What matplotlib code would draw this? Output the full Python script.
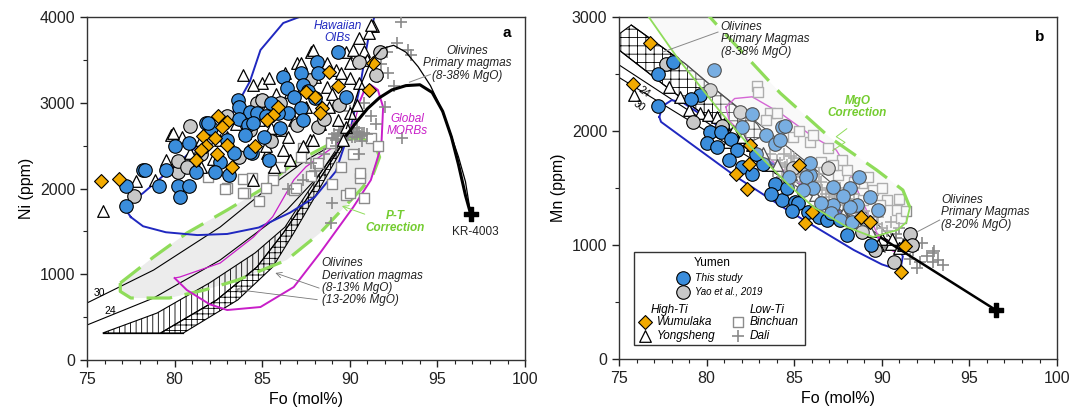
import numpy as np
import matplotlib.pyplot as plt
from matplotlib.patches import Polygon, Rectangle
from matplotlib.ticker import MultipleLocator

plt.rcParams['font.family'] = ['Liberation Sans', 'DejaVu Sans']
plt.rcParams['hatch.linewidth'] = 0.6

# ---------------- panel a : Ni (ppm) vs Fo ----------------
a_blue = np.array([(78.2, 2220), (77.2, 2030), (77.2, 1800), (79.1, 2030), (79.5, 2215), (80.2, 2030),
                   (80.8, 2030), (80.3, 1900), (80.0, 2490), (80.8, 2525), (81.2, 2195), (81.8, 2760),
                   (82.1, 2700), (83.6, 3030), (83.7, 2945), (84.3, 2895), (83.7, 2805), (84.2, 2740),
                   (84.0, 2625), (82.6, 2315), (82.3, 2195), (83.1, 2155), (84.4, 2410), (83.0, 2565),
                   (83.4, 2420), (89.3, 3595), (88.1, 3480), (87.2, 3345), (86.2, 3305), (86.4, 3170),
                   (87.3, 3205), (88.2, 3345), (86.8, 3065), (87.2, 2935), (86.5, 2885), (85.9, 2875),
                   (87.3, 2800), (89.8, 3065), (87.6, 3140), (84.7, 2875), (84.5, 2760), (85.1, 2605),
                   (85.4, 2330), (84.3, 2430), (88.0, 3050), (81.9, 2765), (78.3, 2215), (85.5, 3000),
                   (86.0, 2700), (85.2, 2850)])
a_yao = np.array([(77.7, 1910), (80.2, 2195), (80.2, 2325), (80.9, 2730), (84.7, 3000), (83.7, 2370),
                  (80.7, 2255), (91.7, 3595), (91.5, 3325), (90.5, 3480), (88.2, 2720), (87.7, 3265),
                  (89.4, 2975), (87.0, 2740), (84.3, 2680), (88.5, 2815), (82.0, 2600), (85.5, 2550),
                  (86.0, 3000), (83.0, 2850), (81.5, 2400), (85.0, 3030)])
a_wumulaka = np.array([(75.8, 2090), (76.8, 2115), (82.5, 2845), (83.0, 2780), (82.7, 2715), (81.6, 2610),
                       (82.3, 2585), (81.8, 2495), (81.5, 2450), (83.0, 2505), (81.2, 2330), (82.4, 2400),
                       (83.3, 2255), (84.6, 2495), (88.8, 3360), (89.3, 3195), (87.5, 3130), (88.0, 3065),
                       (91.1, 3150), (91.3, 3465), (85.9, 2955), (85.6, 2855), (85.3, 2800), (88.4, 2935),
                       (88.3, 2875)])
a_yongsheng = np.array([(83.9, 3320), (79.8, 2620), (75.9, 1740), (77.8, 2090), (78.9, 2105), (79.5, 2330),
                        (84.7, 3030), (84.5, 2100), (80.4, 2600), (91.3, 3890), (91.1, 3810), (89.8, 3595),
                        (87.8, 3595), (87.0, 3460), (85.0, 3225), (89.2, 3380), (90.0, 3460), (84.5, 3205),
                        (89.3, 2800), (90.5, 3225), (86.6, 2330), (86.2, 2450), (85.7, 2255), (88.7, 3185),
                        (85.3, 2955), (90.0, 2875), (87.7, 2565), (87.3, 2490), (86.1, 2680), (90.4, 2975),
                        (89.8, 2720), (79.9, 2650), (87.9, 3615), (90.2, 3615), (91.2, 3905), (87.2, 3465),
                        (85.4, 3290), (86.6, 3125), (88.7, 3465), (90.0, 3290), (89.6, 2565), (86.6, 2330),
                        (87.9, 2565), (85.3, 2415), (82.6, 2565), (81.5, 2565), (80.9, 2415), (83.5, 2750),
                        (84.0, 2650), (84.8, 2800), (85.5, 2700), (86.0, 2900), (86.8, 2800), (87.5, 2950),
                        (88.3, 2750), (88.8, 2950), (89.0, 3100), (85.2, 2500), (86.5, 2600), (84.2, 2450),
                        (83.0, 2600), (82.2, 2350), (81.5, 2250), (88.0, 3300), (86.3, 3350), (85.8, 3100),
                        (87.3, 3200), (89.5, 3350), (90.8, 3600), (90.5, 3750), (91.0, 3500)])
a_binchuan = np.array([(88.9, 2530), (87.3, 2470), (90.6, 2120), (90.8, 1890), (89.8, 1920), (85.6, 2140),
                       (86.8, 1980), (91.2, 2590), (90.6, 2180), (85.6, 2100), (87.2, 2370), (83.0, 2005),
                       (84.0, 1950), (85.2, 2005), (86.9, 2005), (90.0, 1950), (82.9, 1990), (83.9, 2106),
                       (84.4, 2118), (83.9, 1944), (81.9, 2138), (88.2, 2300), (89.5, 2250), (86.0, 2250),
                       (87.8, 2150), (84.8, 1850), (89.0, 2050), (90.2, 2400), (91.6, 2500)])
a_dali = np.array([(92.9, 3940), (92.7, 3700), (93.3, 3620), (93.5, 3560), (92.1, 3590), (91.6, 3300),
                   (93.0, 2590), (92.2, 3350), (91.8, 3450), (92.5, 3200), (90.8, 3000), (91.2, 2850),
                   (90.2, 2700), (89.5, 2650), (88.5, 2400), (87.8, 2300), (88.0, 2200), (89.0, 1830),
                   (88.9, 1600), (90.5, 2400), (91.5, 2750), (90.0, 2900), (92.0, 2950), (89.2, 2500),
                   (87.3, 2100), (86.5, 2000), (90.7, 2550), (89.0, 2590), (89.3, 2610), (89.6, 2630),
                   (89.9, 2640), (90.2, 2650), (90.5, 2660), (90.8, 2650), (89.4, 2680), (89.8, 2700),
                   (90.3, 2600), (90.6, 2610), (89.1, 2640), (89.2, 2560), (89.5, 2580), (89.8, 2560),
                   (90.1, 2600), (90.4, 2630), (90.7, 2620), (91.0, 2640), (89.6, 2660), (90.0, 2680),
                   (90.4, 2700)])

# reference fields, panel a
a_oib = [(77.5, 1667), (77.1, 1784), (78.2, 1947), (80.5, 2350), (83.3, 2880), (84.3, 3250), (84.9, 3615),
         (86.2, 3930), (87.9, 4060), (89.5, 4180), (90.8, 4150), (91.4, 4000), (91.1, 3800), (90.9, 3580),
         (90.6, 3207), (90.1, 2750), (89.2, 2200), (88.0, 1900), (86.6, 1720), (84.8, 1545), (83.0, 1470),
         (81.3, 1457), (79.5, 1490), (78.2, 1560), (77.5, 1667)]
a_morb_outer = [(80.0, 956), (80.7, 816), (82.0, 650), (83.0, 583), (84.9, 618), (86.8, 851), (88.3, 1248),
                (90.2, 1784), (91.2, 2099), (91.8, 2500), (91.9, 2950), (91.6, 3150), (91.2, 3206),
                (90.8, 3130), (90.6, 3032)]
a_morb_inner = [(90.6, 3032), (90.3, 2800), (89.5, 2550), (87.5, 2254), (86.8, 2099), (85.6, 1672),
                (84.5, 1434), (82.6, 1131), (80.3, 968), (80.0, 956)]
a_pt = [(76.9, 898), (78.8, 1201), (80.7, 1481), (83.0, 1749), (84.9, 1982), (86.8, 2297), (89.3, 2565),
        (90.6, 2588), (91.4, 2530), (91.7, 2367), (91.3, 2150), (90.6, 1982), (88.3, 1481), (86.4, 1166),
        (83.6, 933), (81.7, 816), (79.7, 723), (77.5, 723), (76.9, 800), (76.9, 898)]
a_l30 = [(75.0, 665), (78.8, 1049), (82.6, 1551), (85.4, 2017), (87.5, 2330), (89.8, 2600)]
a_l24 = [(75.0, 408), (78.8, 723), (82.6, 1166), (86.4, 1749), (88.0, 2099), (89.8, 2580)]
a_hatch_a = [(75.9, 315), (79.0, 548), (82.0, 900), (84.6, 1250), (86.3, 1550), (87.3, 1866), (89.6, 2570)]
a_hatch_b = [(79.2, 315), (82.4, 700), (84.7, 1085), (86.2, 1481), (87.5, 1866), (89.7, 2560)]
a_hatch_c = [(80.5, 315), (83.6, 700), (85.6, 1085), (86.8, 1481), (87.9, 1866), (89.8, 2550)]
a_prim_thick = [(89.8, 2620), (90.4, 2780), (91.0, 2930), (91.7, 3060), (92.4, 3150), (93.2, 3200),
                (94.0, 3210), (94.7, 3120), (95.3, 2900), (95.8, 2600), (96.2, 2280), (96.6, 1920), (96.9, 1700)]
a_prim_thin = [(89.8, 2700), (90.5, 3150), (91.2, 3480), (91.8, 3630), (92.5, 3670), (93.2, 3590),
               (93.9, 3420), (94.6, 3200), (95.2, 2940), (95.7, 2670), (96.2, 2370), (96.6, 2080), (96.9, 1700)]
a_kr = (96.9, 1700)

# ---------------- panel b : Mn (ppm) vs Fo ----------------
b_blue = np.array([(77.2, 2216), (77.25, 2497), (78.1, 2605), (79.6, 2313), (79.1, 2284), (80.4, 2532),
                   (80.2, 1991), (80.8, 1991), (80.0, 1894), (80.6, 1859), (81.4, 1932), (81.75, 1830),
                   (81.3, 1742), (82.0, 1684), (82.6, 1625), (83.2, 1713), (82.8, 1800), (83.9, 1538),
                   (84.3, 1392), (83.7, 1450), (84.6, 1497), (85.05, 1380), (85.8, 1292), (86.4, 1248),
                   (86.85, 1219), (89.4, 1000), (88.0, 1088), (85.24, 1366), (84.9, 1300),
                   (82.6, 2152), (82.0, 2035), (84.3, 2035), (83.4, 1962), (83.9, 1888), (84.47, 2044),
                   (84.19, 1921), (85.9, 1614), (84.7, 1599), (85.9, 1716), (85.7, 1599), (86.1, 1497),
                   (87.2, 1512), (88.2, 1497), (88.6, 1351), (87.2, 1351), (86.5, 1365), (87.1, 1278),
                   (88.2, 1336), (87.6, 1219), (88.3, 1205), (89.8, 1307), (85.5, 1482), (88.7, 1600),
                   (87.8, 1430), (89.3, 1420)])
b_yao = np.array([(77.7, 2591), (80.2, 2363), (81.9, 2166), (79.2, 2079), (84.95, 1672), (86.95, 1672),
                  (91.6, 1096), (91.7, 1000), (90.7, 854), (89.6, 956), (88.85, 1117), (80.9, 2040)])
b_wumulaka = np.array([(76.75, 2772), (75.8, 2409), (82.5, 1874), (81.7, 1625), (82.3, 1494), (82.4, 1713),
                       (85.3, 1702), (85.6, 1195), (88.8, 1248), (89.3, 1205), (91.3, 994), (91.1, 766),
                       (86.0, 1292)])
b_yongsheng = np.array([(77.85, 2386), (75.86, 2313), (79.0, 2181), (79.6, 2160), (80.1, 2137), (80.6, 2120),
                        (81.0, 2060), (81.5, 2000), (82.0, 1950), (82.6, 1880), (83.2, 1810), (84.0, 1700),
                        (84.8, 1620), (85.5, 1520), (86.2, 1440), (87.0, 1350), (87.8, 1270), (88.5, 1200),
                        (89.3, 1120), (90.0, 1050), (90.5, 1010), (91.0, 970), (78.5, 2300), (81.2, 1900),
                        (83.5, 1700), (86.5, 1330), (89.8, 1000), (90.6, 1050), (91.2, 1000)])
b_binchuan = np.array([(82.9, 2391), (82.95, 2346), (83.6, 2155), (84.0, 2160), (85.9, 1906), (84.95, 1950),
                       (86.5, 1731), (87.5, 1614), (88.85, 1541), (89.5, 1482), (90.3, 1395), (90.85, 1307),
                       (86.1, 1965), (88.0, 1658), (88.9, 1395), (91.1, 1234), (86.9, 1850), (87.7, 1750),
                       (89.2, 1600), (90.0, 1500), (91.0, 1400), (91.4, 1300), (85.3, 2000), (87.2, 1700),
                       (88.4, 1550), (89.9, 1350), (83.4, 2100)])
b_dali = np.array([(92.3, 1015), (92.94, 927), (93.5, 824), (92.2, 854), (92.94, 854), (91.8, 960),
                   (91.5, 1050), (90.8, 1100), (90.0, 1150), (89.3, 1200), (88.5, 1280), (87.8, 1350),
                   (87.0, 1420), (86.3, 1480), (85.6, 1560), (85.0, 1620), (84.5, 1680), (89.0, 1300),
                   (88.0, 1400), (87.2, 1500), (86.5, 1550), (90.5, 1200), (91.0, 1150), (89.8, 1250),
                   (88.7, 1350), (92.6, 900), (93.2, 870), (91.6, 880), (92.0, 800), (90.2, 980),
                   (93.0, 950), (84.0, 1750), (84.6, 1700), (85.2, 1650), (85.8, 1600), (84.3, 1600),
                   (85.0, 1550), (86.0, 1500), (86.8, 1450), (87.5, 1400), (88.2, 1330), (83.6, 1800),
                   (84.8, 1780), (86.4, 1620), (87.6, 1500), (88.4, 1450), (83.8, 1650), (84.2, 1720),
                   (84.9, 1700), (85.4, 1600), (85.6, 1680), (86.2, 1560), (86.9, 1500), (87.3, 1440),
                   (87.9, 1380), (88.6, 1300), (89.2, 1250), (89.7, 1180), (90.3, 1120), (90.8, 1060),
                   (91.3, 1020), (84.4, 1800), (85.0, 1760), (83.9, 1880), (86.6, 1480), (88.9, 1220)])

b_band = [(79.6, 3100), (80.7, 2912), (84.2, 2333), (87.0, 1947), (89.7, 1658), (91.2, 1482), (91.6, 1330),
          (91.4, 1200), (90.9, 1132), (89.5, 1070), (88.0, 1158), (86.1, 1333), (84.6, 1540), (82.3, 1895),
          (80.7, 2184), (78.3, 2649), (76.7, 3000), (76.2, 3100)]
b_crosshatch = [(75.0, 2850), (75.7, 2930), (78.8, 2588), (80.7, 2340), (82.9, 2060), (83.3, 1960),
                (82.2, 1886), (80.0, 2123), (77.5, 2412), (75.0, 2711)]
b_line0 = [(75.7, 2930), (78.8, 2588), (80.7, 2340), (83.0, 2060), (86.0, 1690), (89.0, 1300), (90.8, 1020)]
b_line1 = [(75.0, 2711), (77.5, 2412), (80.0, 2123), (82.2, 1886), (86.0, 1450), (90.8, 1000)]
b_l24 = [(75.0, 2580), (90.8, 990)]
b_l30 = [(75.0, 2470), (90.8, 980)]
b_primary = [(90.0, 1060), (96.5, 430)]
b_oib = [(77.3, 2123), (77.5, 2220), (78.0, 2270), (78.6, 2254), (81.0, 2010), (84.0, 1690), (87.0, 1350),
         (89.5, 1090), (91.0, 960), (91.2, 900), (91.1, 820), (90.7, 795), (90.0, 830), (88.4, 956),
         (84.6, 1307), (81.7, 1597), (79.0, 1900), (77.4, 2080), (77.3, 2123)]
b_morb = [(81.1, 2210), (81.6, 2285), (82.6, 2300), (84.2, 2158), (86.1, 1947), (87.4, 1833), (88.0, 1680),
          (88.6, 1482), (89.9, 1044), (90.6, 950), (91.0, 930), (90.9, 1010), (90.0, 1050), (88.5, 1160),
          (86.5, 1390), (84.5, 1640), (82.5, 1900), (81.3, 2090), (81.1, 2210)]
b_kr = (96.5, 430)

BLUE = '#3a8ddc'
GREY = '#c8c8c8'
ORANGE = '#f2aa00'
GREEN = '#8fdc5a'
MAGENTA = '#c81ec8'
OIB = '#2028c0'


def xy(pts):
    arr = np.array(pts)
    return arr[:, 0], arr[:, 1]


def style_axes(ax, ymax, ylabel):
    ax.set_xlim(75, 100)
    ax.set_ylim(0, ymax)
    ax.xaxis.set_major_locator(MultipleLocator(5))
    ax.xaxis.set_minor_locator(MultipleLocator(1))
    ax.yaxis.set_major_locator(MultipleLocator(1000))
    ax.yaxis.set_minor_locator(MultipleLocator(500))
    ax.tick_params(which='major', direction='out', length=5, width=1, labelsize=11.5, colors='#222')
    ax.tick_params(which='minor', direction='out', length=3, width=0.8, colors='#222')
    for s in ax.spines.values():
        s.set_color('#333')
        s.set_linewidth(1)
    ax.set_xlabel('Fo (mol%)', fontsize=11.5)
    ax.set_ylabel(ylabel, fontsize=11.5)


def scatter_sets(ax, blue, yao, wum, yong, binc, dali):
    ax.scatter(binc[:, 0], binc[:, 1], s=55, marker='s', facecolor='white', edgecolor='#8c8c8c', lw=1, zorder=3)
    ax.scatter(dali[:, 0], dali[:, 1], s=80, marker='+', color='#8a8a8a', lw=1.2, zorder=3)
    ax.scatter(yong[:, 0], yong[:, 1], s=70, marker='^', facecolor='white', edgecolor='black', lw=0.9, zorder=4)
    ax.scatter(yao[:, 0], yao[:, 1], s=95, marker='o', facecolor=GREY, edgecolor='black', lw=0.8, zorder=5)
    ax.scatter(blue[:, 0], blue[:, 1], s=95, marker='o', facecolor=BLUE, edgecolor='black', lw=0.8, zorder=5)
    ax.scatter(wum[:, 0], wum[:, 1], s=50, marker='D', facecolor=ORANGE, edgecolor='black', lw=0.8, zorder=6)


fig = plt.figure(figsize=(10.7, 4.08), dpi=100)

# ---------- panel a ----------
ax = fig.add_axes([0.0813, 0.1176, 0.4094, 0.8407])
ax.add_patch(Polygon(a_pt, closed=True, facecolor='#ececec', edgecolor='none', zorder=1))
ax.add_patch(Polygon(a_hatch_a + a_hatch_b[::-1], closed=True, facecolor='none', edgecolor='black',
                     hatch='|||', lw=0.8, zorder=1.5))
ax.add_patch(Polygon(a_hatch_b + a_hatch_c[::-1], closed=True, facecolor='none', edgecolor='black',
                     hatch='+++', lw=0.8, zorder=1.5))
ax.plot(*xy([a_hatch_a[0], a_hatch_c[0]]), color='black', lw=0.9, zorder=1.6)
ax.plot(*xy(a_l30), color='black', lw=0.8, zorder=2)
ax.plot(*xy(a_l24), color='black', lw=0.8, zorder=2)
ax.plot(*xy(a_pt), color=GREEN, lw=2.3, dashes=(8, 4), zorder=2.5)
ax.plot(*xy(a_oib), color=OIB, lw=1.4, zorder=2.5)
ax.plot(*xy(a_morb_outer), color=MAGENTA, lw=1.4, zorder=2.5)
ax.plot(*xy(a_morb_inner), color=MAGENTA, lw=0.9, zorder=2.5)
scatter_sets(ax, a_blue, a_yao, a_wumulaka, a_yongsheng, a_binchuan, a_dali)
ax.plot(*xy(a_prim_thick), color='black', lw=2.2, zorder=6)
ax.plot(*xy(a_prim_thin), color='black', lw=0.9, zorder=6)
ax.scatter([a_kr[0]], [a_kr[1]], s=110, marker='P', color='black', zorder=7)

ax.text(89.3, 3825, 'Hawaiian\nOIBs', color=OIB, style='italic', fontsize=8.5, ha='center', va='center',
        linespacing=1.05, zorder=8)
ax.text(96.7, 3460, 'Olivines\nPrimary magmas\n(8-38% MgO)', style='italic', fontsize=8.5, ha='center',
        va='center', linespacing=1.05, color='#222', zorder=8)
ax.plot(*xy([(94.6, 3330), (93.4, 3240)]), color='#888', lw=0.7, zorder=8)
ax.text(93.3, 2740, 'Global\nMORBs', color=MAGENTA, style='italic', fontsize=8.5, ha='center', va='center',
        linespacing=1.05, zorder=8)
ax.text(92.6, 1610, 'P-T\nCorrection', color='#74cc30', style='italic', weight='bold', fontsize=8.5,
        ha='center', va='center', linespacing=1.05, zorder=8)
ax.annotate('', xy=(89.4, 1807), xytext=(91.0, 1690),
            arrowprops=dict(arrowstyle='->', color=GREEN, lw=0.7), zorder=8)
ax.text(97.15, 1492, 'KR-4003', fontsize=8.5, ha='center', va='center', color='#222', zorder=8)
ax.text(88.4, 1200, 'Olivines\nDerivation magmas\n(8-13% MgO)\n(13-20% MgO)', style='italic', fontsize=8.5,
        ha='left', va='top', linespacing=1.05, color='#222', zorder=8)
ax.annotate('', xy=(85.6, 1026), xytext=(88.4, 828),
            arrowprops=dict(arrowstyle='->', color='#777', lw=0.6), zorder=8)
ax.annotate('', xy=(83.3, 828), xytext=(88.3, 700),
            arrowprops=dict(arrowstyle='->', color='#777', lw=0.6), zorder=8)
ax.text(75.7, 780, '30', fontsize=7.5, ha='center', va='center', zorder=8)
ax.text(76.3, 571, '24', fontsize=7.5, ha='center', va='center', zorder=8)
ax.text(0.959, 0.953, 'a', transform=ax.transAxes, fontsize=11, weight='bold', ha='center', va='center')
style_axes(ax, 4000, 'Ni (ppm)')

# ---------- panel b ----------
bx = fig.add_axes([0.5785, 0.1201, 0.4094, 0.8382])
bx.add_patch(Polygon(b_crosshatch, closed=True, facecolor='white', edgecolor='black', hatch='++',
                     lw=0.8, zorder=1.5))
for line in (b_line0, b_line1, b_l24, b_l30):
    bx.plot(*xy(line), color='black', lw=0.8, zorder=2)
bx.plot(*xy(b_oib), color=OIB, lw=1.4, zorder=2.5)
bx.plot(*xy(b_morb), color=MAGENTA, lw=1.0, zorder=2.5)
scatter_sets(bx, b_blue, b_yao, b_wumulaka, b_yongsheng, b_binchuan, b_dali)
# the correction band sits over the points and washes them out
bx.add_patch(Polygon(b_band, closed=True, facecolor='#eeeeee', edgecolor='none', alpha=0.35, zorder=5.5))
bx.plot(*xy(b_band[:7]), color=GREEN, lw=2.3, dashes=(8, 4), zorder=6)
bx.plot(*xy(b_band[6:]), color=GREEN, lw=1.3, zorder=6)
bx.plot(*xy(b_primary), color='black', lw=1.8, zorder=6)
bx.scatter([b_kr[0]], [b_kr[1]], s=110, marker='P', color='black', zorder=7)

bx.text(80.8, 2965, 'Olivines\nPrimary Magmas\n(8-38% MgO)', style='italic', fontsize=8.5, ha='left',
        va='top', linespacing=1.05, color='#222', zorder=8)
bx.plot(*xy([(80.65, 2868), (77.5, 2693)]), color='#888', lw=0.7, zorder=8)
bx.text(88.6, 2210, 'MgO\nCorrection', color='#74cc30', style='italic', weight='bold', fontsize=8.5,
        ha='center', va='center', linespacing=1.05, zorder=8)
bx.plot(*xy([(88.0, 2020), (87.4, 1950), (87.9, 1900), (87.2, 1830)]), color=GREEN, lw=0.7, zorder=8)
bx.text(93.4, 1447, 'Olivines\nPrimary Magmas\n(8-20% MgO)', style='italic', fontsize=8.5, ha='left',
        va='top', linespacing=1.05, color='#222', zorder=8)
bx.plot(*xy([(93.3, 1219), (92.0, 1114)]), color='#888', lw=0.7, zorder=8)
bx.text(76.43, 2342, '24', fontsize=7.5, rotation=-36, ha='center', va='center', zorder=8)
bx.text(76.14, 2219, '30', fontsize=7.5, rotation=-36, ha='center', va='center', zorder=8)
bx.text(0.961, 0.942, 'b', transform=bx.transAxes, fontsize=11, weight='bold', ha='center', va='center')

# legend box
bx.add_patch(Rectangle((0.034, 0.041), 0.391, 0.272, transform=bx.transAxes, facecolor='white',
                       edgecolor='#333', lw=1, zorder=9))
t = bx.transAxes
bx.text(0.212, 0.281, 'Yumen', transform=t, fontsize=8.5, ha='center', va='center', zorder=10)
bx.scatter([0.146], [0.237], transform=t, s=95, marker='o', facecolor=BLUE, edgecolor='black', lw=0.8, zorder=10)
bx.text(0.174, 0.237, 'This study', transform=t, fontsize=7.5, style='italic', va='center', zorder=10)
bx.scatter([0.146], [0.196], transform=t, s=95, marker='o', facecolor=GREY, edgecolor='black', lw=0.8, zorder=10)
bx.text(0.174, 0.196, 'Yao et al., 2019', transform=t, fontsize=7, style='italic', va='center', zorder=10)
bx.text(0.116, 0.143, 'High-Ti', transform=t, fontsize=8.5, style='italic', ha='center', va='center', zorder=10)
bx.text(0.338, 0.143, 'Low-Ti', transform=t, fontsize=8.5, style='italic', ha='center', va='center', zorder=10)
bx.scatter([0.059], [0.108], transform=t, s=50, marker='D', facecolor=ORANGE, edgecolor='black', lw=0.8, zorder=10)
bx.text(0.087, 0.108, 'Wumulaka', transform=t, fontsize=8.5, style='italic', va='center', zorder=10)
bx.scatter([0.059], [0.067], transform=t, s=70, marker='^', facecolor='white', edgecolor='black', lw=0.9, zorder=10)
bx.text(0.087, 0.067, 'Yongsheng', transform=t, fontsize=8.5, style='italic', va='center', zorder=10)
bx.scatter([0.272], [0.108], transform=t, s=55, marker='s', facecolor='white', edgecolor='#8c8c8c', lw=1, zorder=10)
bx.text(0.299, 0.108, 'Binchuan', transform=t, fontsize=8.5, style='italic', va='center', zorder=10)
bx.scatter([0.272], [0.067], transform=t, s=80, marker='+', color='#8a8a8a', lw=1.2, zorder=10)
bx.text(0.299, 0.067, 'Dali', transform=t, fontsize=8.5, style='italic', va='center', zorder=10)
style_axes(bx, 3000, 'Mn (ppm)')

fig.savefig('out.png', dpi=100)
